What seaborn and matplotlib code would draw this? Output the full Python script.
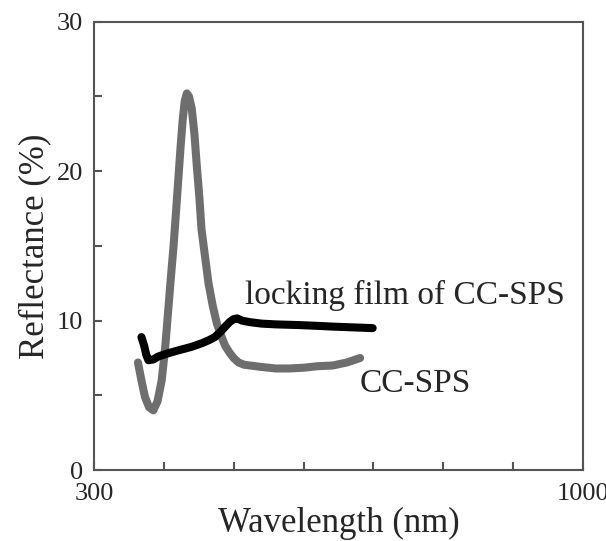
import numpy as np
import pandas as pd
import seaborn as sns
import matplotlib.pyplot as plt

sns.set_style("ticks")
plt.rcParams['font.family'] = ['Liberation Serif', 'DejaVu Serif']

# CC-SPS spectrum
wl_sps = [363, 368, 373, 379, 385, 391, 397, 402, 406, 410, 414, 418, 421, 424, 427, 430, 433, 436, 440, 444, 447, 451, 454, 459, 464, 470, 476, 482, 488, 495, 500, 507, 515, 523, 540, 560, 580, 600, 620, 642, 662, 681]
r_sps = [7.2, 6.0, 4.9, 4.2, 4.0, 4.6, 6.0, 8.2, 10.5, 12.8, 15.0, 17.6, 19.6, 21.6, 23.4, 24.7, 25.2, 25.0, 24.2, 22.4, 20.5, 18.2, 16.1, 14.3, 12.5, 11.0, 9.8, 9.0, 8.3, 7.8, 7.5, 7.2, 7.05, 7.0, 6.9, 6.8, 6.8, 6.85, 6.95, 7.0, 7.2, 7.5]

# locking film of CC-SPS
wl_lock = [368, 372, 375, 378, 385, 392, 405, 420, 440, 455, 465, 473, 480, 487, 494, 500, 505, 512, 523, 540, 560, 595, 620, 642, 670, 699]
r_lock = [8.9, 8.3, 7.7, 7.35, 7.4, 7.6, 7.8, 8.0, 8.25, 8.5, 8.7, 8.9, 9.2, 9.55, 9.9, 10.1, 10.15, 10.0, 9.9, 9.8, 9.75, 9.7, 9.65, 9.6, 9.55, 9.5]

df_sps = pd.DataFrame({"wl": wl_sps, "R": r_sps})
df_lock = pd.DataFrame({"wl": wl_lock, "R": r_lock})

fig = plt.figure(figsize=(6.06, 5.41), dpi=100)
ax = fig.add_axes([0.155, 0.131, 0.807, 0.829])

sns.lineplot(data=df_sps, x="wl", y="R", ax=ax, color="#6e6e6e", linewidth=5.8,
             sort=False, solid_joinstyle="round")
sns.lineplot(data=df_lock, x="wl", y="R", ax=ax, color="black", linewidth=5.8,
             sort=False, solid_joinstyle="round")

ax.text(516, 11.7, "locking film of CC-SPS", fontsize=24, va="center", ha="left")
ax.text(680, 5.8, "CC-SPS", fontsize=24, va="center", ha="left")

ax.set_xlim(300, 1000)
ax.set_ylim(0, 30)
ax.set_xticks(range(300, 1001, 100))
ax.set_xticklabels(["300", "", "", "", "", "", "", "1000"])
ax.set_yticks(range(0, 31, 5))
ax.set_yticklabels(["0", "", "10", "", "20", "", "30"])
ax.tick_params(direction="in", length=6, width=1.5, color="#555555", labelsize=19)
ax.tick_params(axis="x", pad=9)
ax.tick_params(axis="y", pad=8)
for s in ax.spines.values():
    s.set_color("#555555")
    s.set_linewidth(1.5)

ax.set_xlabel("Wavelength (nm)", fontsize=25, labelpad=2)
ax.set_ylabel("Reflectance (%)", fontsize=25, labelpad=4)

fig.savefig("out.png", dpi=100)
